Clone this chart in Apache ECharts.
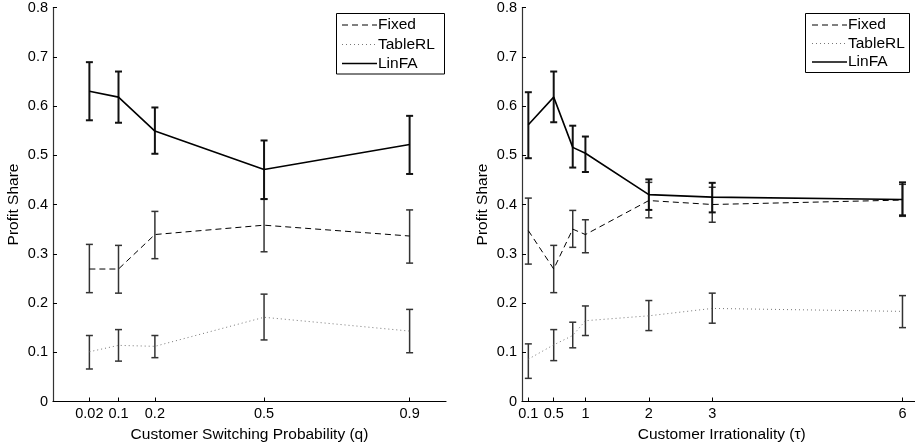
<!DOCTYPE html>
<html>
<head>
<meta charset="utf-8">
<script src="https://cdn.jsdelivr.net/npm/echarts@6/dist/echarts.min.js"></script>
<style>
html,body{margin:0;padding:0;background:#fff;}
#chart{width:915px;height:443px;}
</style>
</head>
<body>
<div id="chart"></div>
<script>
// ---- Data ----
var leftX = [0.02, 0.1, 0.2, 0.5, 0.9];
var leftFixed = [0.269, 0.269, 0.339, 0.358, 0.336];
var leftFixedLo = [0.221, 0.220, 0.290, 0.304, 0.281];
var leftFixedHi = [0.319, 0.317, 0.386, 0.411, 0.389];
var leftTable = [0.101, 0.114, 0.112, 0.171, 0.143];
var leftTableLo = [0.066, 0.082, 0.089, 0.125, 0.099];
var leftTableHi = [0.134, 0.146, 0.134, 0.218, 0.187];
var leftLin = [0.630, 0.618, 0.549, 0.471, 0.522];
var leftLinLo = [0.571, 0.566, 0.503, 0.411, 0.462];
var leftLinHi = [0.689, 0.670, 0.597, 0.530, 0.580];

var rightX = [0.1, 0.5, 0.8, 1, 2, 3, 6];
var rightFixed = [0.347, 0.269, 0.350, 0.339, 0.408, 0.400, 0.409];
var rightFixedLo = [0.279, 0.221, 0.313, 0.302, 0.373, 0.364, 0.376];
var rightFixedHi = [0.413, 0.317, 0.388, 0.369, 0.445, 0.435, 0.441];
var rightTable = [0.086, 0.115, 0.134, 0.164, 0.174, 0.189, 0.183];
var rightTableLo = [0.047, 0.083, 0.109, 0.134, 0.144, 0.159, 0.150];
var rightTableHi = [0.117, 0.146, 0.161, 0.194, 0.205, 0.220, 0.215];
var rightLin = [0.562, 0.618, 0.516, 0.504, 0.420, 0.415, 0.410];
var rightLinLo = [0.494, 0.567, 0.475, 0.466, 0.389, 0.384, 0.378];
var rightLinHi = [0.628, 0.670, 0.560, 0.538, 0.451, 0.444, 0.445];

var leftTicks = [0.02, 0.1, 0.2, 0.5, 0.9];
var rightTicks = [0.1, 0.5, 1, 2, 3, 6];
var seriesNames = ['Fixed', 'TableRL', 'LinFA'];
var yTitle = 'Profit Share';
var leftXTitle = 'Customer Switching Probability (q)';
var rightXTitle = 'Customer Irrationality (\u03c4)';

// ---- Helpers ----
var FONT = '"Liberation Sans", Helvetica, Arial, sans-serif';
var TICK_FS = 14.5, TITLE_FS = 15.5;
function pairs(xs, ys) { return xs.map(function (x, i) { return [x, ys[i]]; }); }
function triples(xs, lo, hi) { return xs.map(function (x, i) { return [x, lo[i], hi[i]]; }); }

var styles = {
  Fixed:   { line: { color: '#000', width: 1, type: [6, 4] }, bar: { color: '#333', width: 1.5 } },
  TableRL: { line: { color: '#777', width: 1, type: [1, 3] }, bar: { color: '#333', width: 1.5 } },
  LinFA:   { line: { color: '#000', width: 1.6, type: 'solid' }, bar: { color: '#111', width: 2 } }
};

function lineSeries(name, idx, xs, ys) {
  var s = styles[name].line;
  return {
    type: 'line', name: name, xAxisIndex: idx, yAxisIndex: idx,
    data: pairs(xs, ys), symbol: 'none', showSymbol: false,
    color: s.color,
    lineStyle: { color: s.color, width: s.width, type: s.type },
    animation: false, z: 3
  };
}
function errSeries(name, idx, xs, lo, hi) {
  var b = styles[name].bar;
  return {
    type: 'custom', name: name + '_err', xAxisIndex: idx, yAxisIndex: idx,
    data: triples(xs, lo, hi), animation: false, z: 2,
    renderItem: function (params, api) {
      var top = api.coord([api.value(0), api.value(2)]);
      var bot = api.coord([api.value(0), api.value(1)]);
      var w = 3.5;
      var st = { stroke: b.color, lineWidth: b.width };
      return {
        type: 'group',
        children: [
          { type: 'line', shape: { x1: top[0], y1: top[1], x2: bot[0], y2: bot[1] }, style: st },
          { type: 'line', shape: { x1: top[0] - w, y1: top[1], x2: top[0] + w, y2: top[1] }, style: st },
          { type: 'line', shape: { x1: bot[0] - w, y1: bot[1], x2: bot[0] + w, y2: bot[1] }, style: st }
        ]
      };
    }
  };
}

function xAxisCfg(idx, min, max, ticks, title) {
  return {
    type: 'value', gridIndex: idx, min: min, max: max,
    name: title, nameLocation: 'middle', nameGap: 20,
    nameTextStyle: { color: '#000', fontSize: TITLE_FS, fontFamily: FONT },
    axisLine: { show: true, onZero: false, lineStyle: { color: '#000', width: 1.2 } },
    axisTick: { show: true, inside: true, length: 4, customValues: ticks, lineStyle: { color: '#000' } },
    axisLabel: { customValues: ticks, color: '#000', fontSize: TICK_FS, fontFamily: FONT, margin: 5,
                 formatter: function (v) { return String(v); } },
    splitLine: { show: false }
  };
}
function yAxisCfg(idx) {
  return {
    type: 'value', gridIndex: idx, min: 0, max: 0.8, interval: 0.1,
    name: yTitle, nameLocation: 'middle', nameGap: 31, nameRotate: 90,
    nameTextStyle: { color: '#000', fontSize: TITLE_FS, fontFamily: FONT },
    axisLine: { show: true, onZero: false, lineStyle: { color: '#333', width: 1.2 } },
    axisTick: { show: true, inside: true, length: 4, lineStyle: { color: '#000' } },
    axisLabel: { color: '#000', fontSize: TICK_FS, fontFamily: FONT, margin: 5,
                 formatter: function (v) { return String(Math.round(v * 10) / 10); } },
    splitLine: { show: false }
  };
}

// legend drawn as graphic (box, line samples, labels)
function legendGraphic(box, lineX1, lineX2, rowsY) {
  var els = [{
    type: 'rect', shape: { x: box.x, y: box.y, width: box.w, height: box.h },
    style: { fill: '#fff', stroke: '#000', lineWidth: 1 }, z: 10
  }];
  seriesNames.forEach(function (n, i) {
    var s = styles[n].line;
    els.push({
      type: 'line', shape: { x1: lineX1, y1: rowsY[i], x2: lineX2, y2: rowsY[i] },
      style: { stroke: s.color, lineWidth: s.width, lineDash: s.type === 'solid' ? null : s.type }, z: 11
    });
    els.push({
      type: 'text', x: lineX2 + 1, y: rowsY[i],
      style: { text: n, fill: '#000', font: TITLE_FS + 'px ' + FONT, textVerticalAlign: 'middle', textAlign: 'left' }, z: 11
    });
  });
  return els;
}

var chart = echarts.init(document.getElementById('chart'), null, { renderer: 'canvas' });
chart.setOption({
  backgroundColor: '#fff',
  animation: false,
  grid: [
    { left: 53, top: 7.5, width: 393, height: 394, outerBoundsMode: 'none', containLabel: false },
    { left: 522, top: 7.5, width: 399.5, height: 394, outerBoundsMode: 'none', containLabel: false }
  ],
  xAxis: [
    xAxisCfg(0, -0.08, 1.0, leftTicks, leftXTitle),
    xAxisCfg(1, 0, 6.3, rightTicks, rightXTitle)
  ],
  yAxis: [yAxisCfg(0), yAxisCfg(1)],
  graphic: legendGraphic({ x: 336.5, y: 13.5, w: 108, h: 60.5 }, 342, 377, [25, 44.5, 63.5])
    .concat(legendGraphic({ x: 805.5, y: 13.5, w: 104, h: 59 }, 812, 847, [25, 43.5, 62])),
  series: [
    lineSeries('Fixed', 0, leftX, leftFixed),
    lineSeries('TableRL', 0, leftX, leftTable),
    lineSeries('LinFA', 0, leftX, leftLin),
    errSeries('Fixed', 0, leftX, leftFixedLo, leftFixedHi),
    errSeries('TableRL', 0, leftX, leftTableLo, leftTableHi),
    errSeries('LinFA', 0, leftX, leftLinLo, leftLinHi),
    lineSeries('Fixed', 1, rightX, rightFixed),
    lineSeries('TableRL', 1, rightX, rightTable),
    lineSeries('LinFA', 1, rightX, rightLin),
    errSeries('Fixed', 1, rightX, rightFixedLo, rightFixedHi),
    errSeries('TableRL', 1, rightX, rightTableLo, rightTableHi),
    errSeries('LinFA', 1, rightX, rightLinLo, rightLinHi)
  ]
});
</script>
</body>
</html>
